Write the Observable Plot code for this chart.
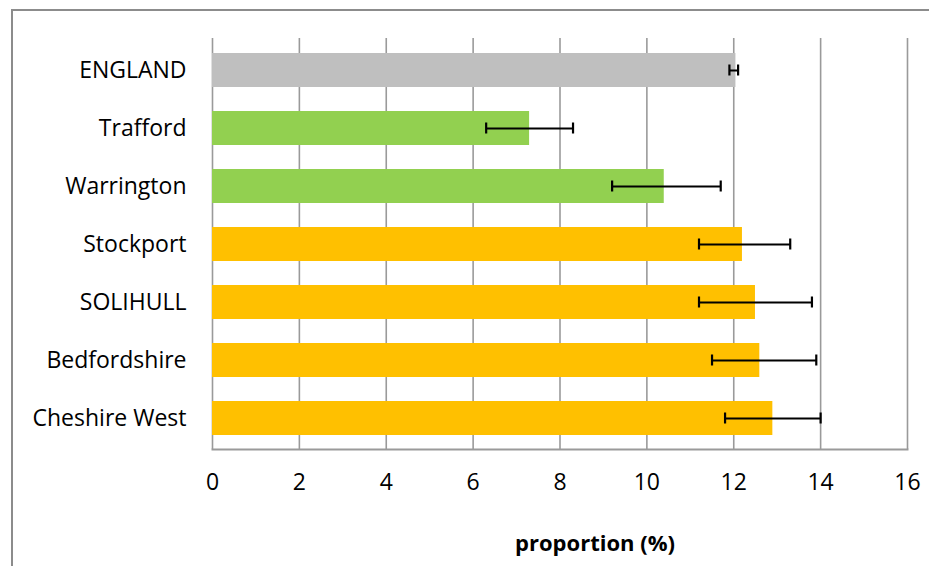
<!DOCTYPE html>
<html>
<head>
<meta charset="utf-8">
<script src="https://cdn.jsdelivr.net/npm/d3@7"></script>
<script src="https://cdn.jsdelivr.net/npm/@observablehq/plot@0.6"></script>
<style>
  html, body { margin: 0; padding: 0; background: #fff; }
  #wrap { position: relative; width: 929px; height: 566px; overflow: hidden; }
  #border { position: absolute; left: 11px; top: 9px; width: 940px; height: 600px;
            border-left: 2px solid #8c8c8c; border-top: 2px solid #8c8c8c; }
  #chart { position: absolute; left: 0; top: 0; }
</style>
</head>
<body>
<div id="wrap">
  <div id="border"></div>
  <div id="chart"></div>
</div>
<script>
const areas = ["ENGLAND", "Trafford", "Warrington", "Stockport", "SOLIHULL", "Bedfordshire", "Cheshire West"];
const values = [12.05, 7.3, 10.4, 12.2, 12.5, 12.6, 12.9];
const lower = [11.9, 6.3, 9.2, 11.2, 11.2, 11.5, 11.8];
const upper = [12.1, 8.3, 11.7, 13.3, 13.8, 13.9, 14.0];
const groups = ["England", "Better", "Better", "Similar", "Similar", "Similar", "Similar"];
const groupNames = ["England", "Better", "Similar"];
const groupColors = ["#bfbfbf", "#92d050", "#ffc000"];
const xTicks = [0, 2, 4, 6, 8, 10, 12, 14, 16];
const xLabel = "proportion (%)";

const data = areas.map((a, i) => ({area: a, value: values[i], lo: lower[i], hi: upper[i], group: groups[i]}));

const font = "'Open Sans', sans-serif";

const chart = Plot.plot({
  width: 929,
  height: 566,
  marginLeft: 212,
  marginRight: 22,
  marginTop: 38,
  marginBottom: 117,
  style: {fontFamily: font, background: "transparent", overflow: "visible"},
  x: {domain: [0, 16], ticks: xTicks},
  y: {domain: areas, paddingInner: 0.42, paddingOuter: 0.21},
  color: {domain: groupNames, range: groupColors},
  marks: [
    Plot.gridX(xTicks, {stroke: "#9a9a9a", strokeOpacity: 1, strokeWidth: 1.6}),
    Plot.frame({anchor: "bottom", stroke: "#9a9a9a", strokeWidth: 2}),
    Plot.barX(data, {x: "value", y: "area", fill: "group"}),
    Plot.link(data, {x1: "lo", x2: "hi", y1: "area", y2: "area", stroke: "#000", strokeWidth: 2}),
    Plot.tickX(data, {x: "lo", y: "area", stroke: "#000", strokeWidth: 2.2, insetTop: 11.5, insetBottom: 11.5}),
    Plot.tickX(data, {x: "hi", y: "area", stroke: "#000", strokeWidth: 2.2, insetTop: 11.5, insetBottom: 11.5}),
    Plot.axisY({tickSize: 0, tickPadding: 26, fontSize: 23, fill: "#000", label: null}),
    Plot.axisX(xTicks, {tickSize: 0, tickPadding: 24, fontSize: 23, fill: "#000", label: null}),
    Plot.text([xLabel], {text: d => d, frameAnchor: "bottom", dx: 35, dy: 101, fontSize: 22, fontWeight: "bold", fill: "#000"})
  ]
});
document.getElementById("chart").appendChild(chart);
</script>
</body>
</html>
